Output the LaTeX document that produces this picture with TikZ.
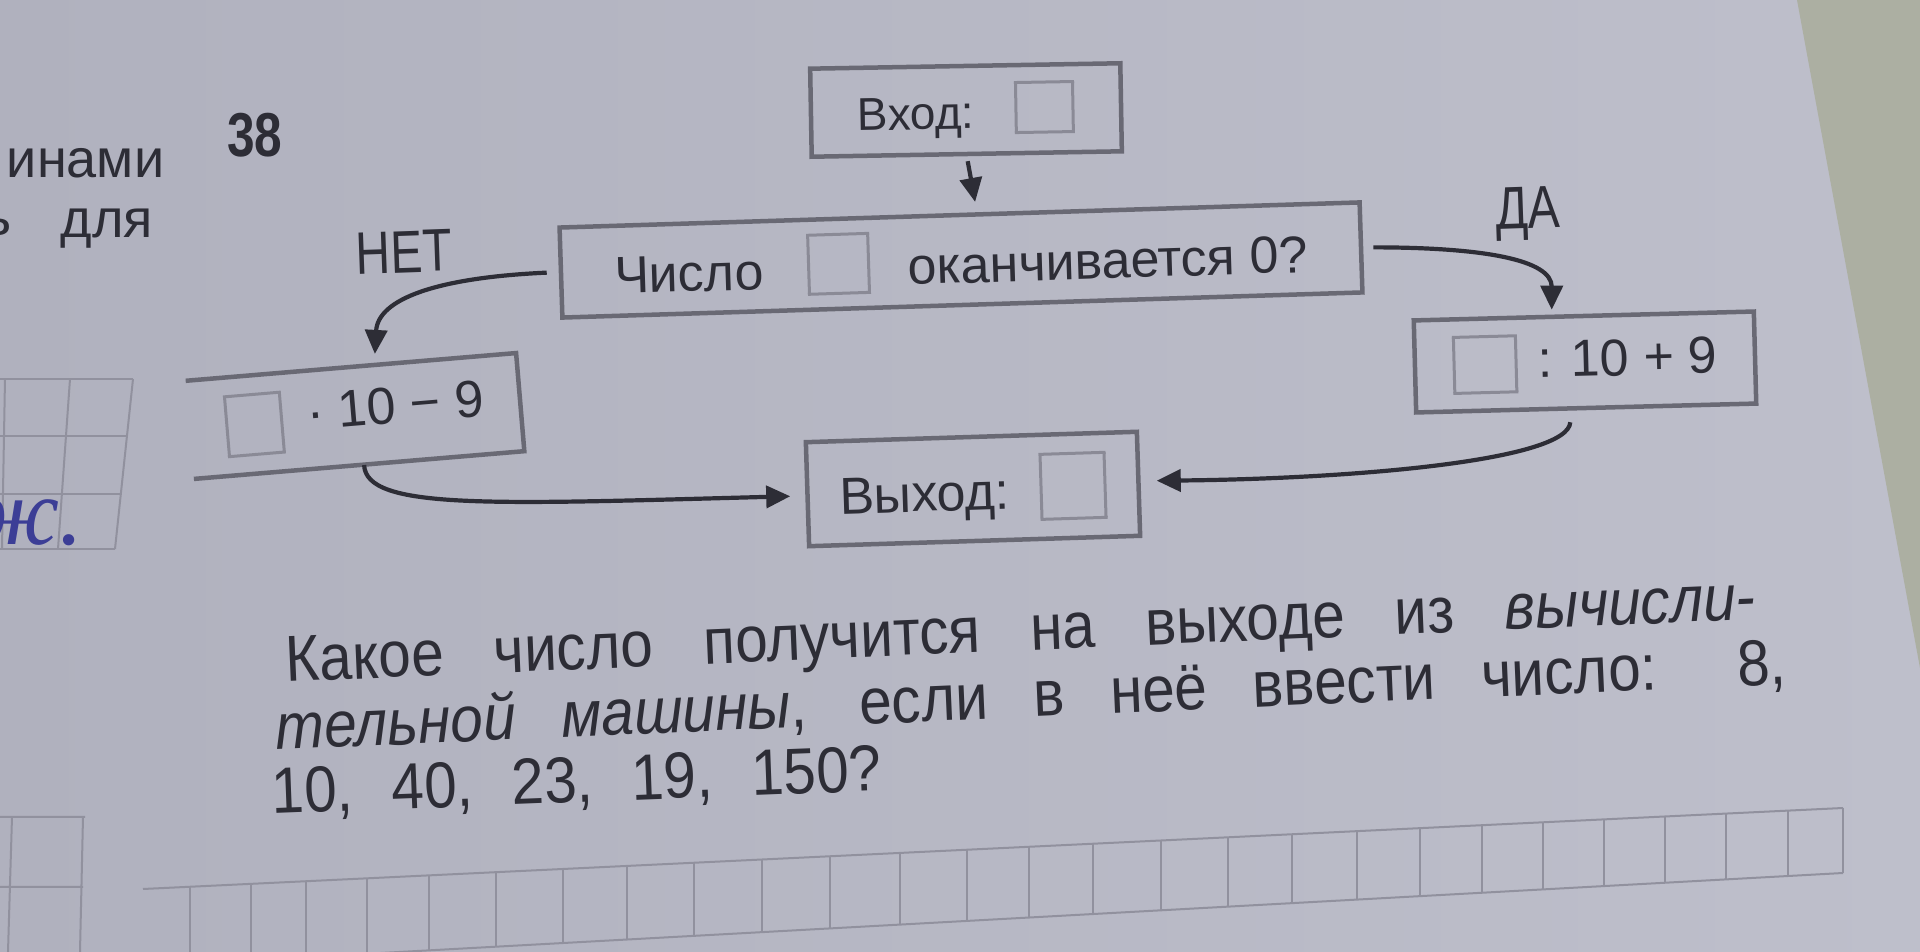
\documentclass[tikz,border=0pt]{standalone}
\usepackage{fontspec}
\setmainfont{Liberation Sans}
\newfontfamily\qfont{Liberation Sans}[FakeStretch=0.9]
\newfontfamily\nfont{Liberation Sans}[FakeStretch=0.8]
\newfontfamily\handfont{Liberation Serif}
\usetikzlibrary{arrows.meta}
\definecolor{paperL}{RGB}{176,177,190}
\definecolor{paperR}{RGB}{190,191,203}
\definecolor{outside}{RGB}{172,175,162}
\definecolor{ink}{RGB}{45,45,54}
\definecolor{boxcol}{RGB}{105,105,116}
\definecolor{sqcol}{RGB}{138,138,150}
\definecolor{gridcol}{RGB}{145,145,158}
\definecolor{pen}{RGB}{60,62,150}
\newcommand\fsz[1]{\fontsize{#1mm}{#1mm}\selectfont}
\newcommand\sqbox[3]{\raisebox{-#3mm}{\textcolor{sqcol}{\setlength{\fboxrule}{0.3mm}\setlength{\fboxsep}{0pt}\fbox{\rule{0pt}{#2mm}\rule{#1mm}{0pt}}}}}
\begin{document}
\begin{tikzpicture}[x=0.01cm,y=-0.01cm,
  box/.style={draw=boxcol, line width=0.45mm, inner sep=0pt, text=ink, font=\fsz{5.2}},
  openbox/.style={inner sep=0pt, text=ink, font=\fsz{5.2}},
  boxline/.style={draw=boxcol, line width=0.45mm},
  arr/.style={draw=ink, line width=0.42mm, -{Triangle[length=2.4mm,width=2.2mm]}},
  lbl/.style={text=ink, inner sep=0pt, font=\nfont\fsz{6.0}},
  qline/.style={text=ink, inner sep=0pt, anchor=base west, font=\qfont\fsz{6.5}},
  side/.style={text=ink, inner sep=0pt, anchor=base east, font=\fsz{5.4}},
  grid/.style={draw=gridcol, line width=0.2mm}]
\useasboundingbox (0,0) rectangle (1920,952);
\shade[left color=paperL, right color=paperR] (0,0) rectangle (1920,952);
\fill[outside] (1797,0) -- (1920,0) -- (1920,668) -- cycle;

% grids
\draw[grid] (0,379) -- (133,379) (0,436) -- (128,436) (0,494) -- (121,494) (0,549) -- (115,549);
\draw[grid] (5,379) -- (2,549) (70,379) -- (58,549) (133,379) -- (115,549);
\draw[grid] (0,817) -- (85,817) (0,887) -- (83,887) (12,817) -- (8,952) (83,817) -- (80,952);
\draw[grid] (143,889) -- (1843,808) (143,966) -- (1843,873);
\foreach \x in {190,251,306,367,429,496,563,627,694,762,830,900,967,1029,1093,1161,1228,1292,1357,1420,1482,1543,1604,1665,1726,1788,1843}{
  \pgfmathsetmacro\yt{808+(1837-\x)*0.0479}
  \pgfmathsetmacro\yb{873+(1843-\x)*0.0547}
  \draw[grid] (\x,\yt) -- (\x,\yb);
}

% side texts
\node[side] (s1) at (165,178) {инами};
\node[side] (s0) at (12,236) {ь};
\node[side] (s2) at (154,238) {для};
\node[text=ink, inner sep=0pt, font=\nfont\bfseries\fsz{6.2}] (num) at (255,135) {38};
\node[text=pen, inner sep=0pt, anchor=base east, font=\handfont\itshape\fsz{9.5}] (hw) at (84,545) {ж.};

% boxes
\node[box, minimum width=31mm, minimum height=8.8mm, rotate=1] (in) at (966,110)
  {\fsz{4.6}Вход:\hspace{4mm}\sqbox{5.4}{4.7}{0.3}};
\node[box, minimum width=80mm, minimum height=9mm, rotate=1.8] (dec) at (961,260)
  {Число\hspace{4.3mm}\sqbox{5.7}{5.6}{0.5}\hspace{3.8mm}оканчивается 0?};
\node[openbox, minimum width=33mm, minimum height=9.7mm, rotate=4.8] (lb) at (355,416)
  {\sqbox{5.2}{5.7}{1.8}\hspace{2.4mm}· 10 − 9};
\draw[boxline] (lb.north west) -- (lb.north east) -- (lb.south east) -- (lb.south west);
\node[box, minimum width=34mm, minimum height=9.2mm, rotate=1.5] (rb) at (1585,362)
  {\sqbox{5.9}{5.3}{1.2}\hspace{2mm}: 10 + 9};
\node[box, minimum width=33.1mm, minimum height=10.4mm, rotate=1.8] (out) at (973,489)
  {Выход:\hspace{3mm}\sqbox{6.1}{6.2}{1.0}};

% labels
\node[lbl, rotate=2] (no) at (404,252) {НЕТ};
\node[lbl, rotate=2] (yes) at (1528,214) {ДА};

% connectors
\draw[arr, shorten <=0.5mm, shorten >=1.1mm] (in.south) -- ([xshift=5]dec.north);
\draw[arr] ([shift={(-12,0)}]dec.west) .. controls +(-110,5) and +(3,-55) .. ([shift={(24,-13)}]lb.north);
\draw[arr] ([shift={(10,0)}]dec.east) .. controls +(110,0) and +(0,-50) .. ([shift={(-32,-4)}]rb.north);
\draw[arr] ([shift={(5,0)}]lb.south) .. controls +(2,45) and +(-300,8) .. ([shift={(-15,2)}]out.west);
\draw[arr] ([shift={(-16,12)}]rb.south) .. controls +(-2,38) and +(200,-2) .. ([shift={(16,-3)}]out.east);

% question
\node[qline, rotate=2.45] (q1) at (286,682)
  {\makebox[147mm][s]{Какое число получится на выходе из \textit{вычисли-}}};
\node[qline, rotate=2.5] (q2) at (276,750)
  {\makebox[151.1mm][s]{\textit{тельной машины}, если в неё ввести число: 8,}};
\node[qline, rotate=2.2] (q3) at (272,814)
  {\makebox[61mm][s]{10, 40, 23, 19, 150?}};
\end{tikzpicture}
\end{document}
